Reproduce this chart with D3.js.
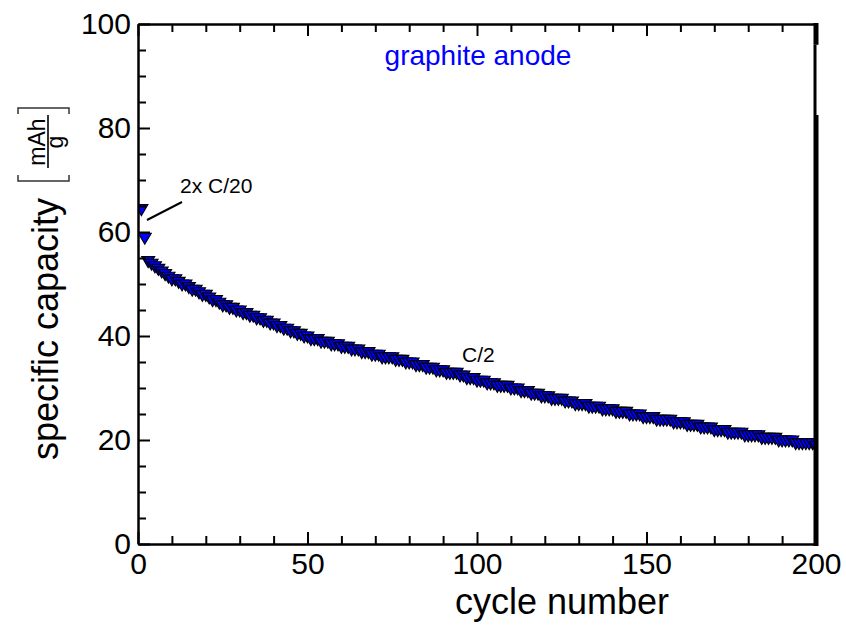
<!DOCTYPE html>
<html>
<head>
<meta charset="utf-8">
<script src="https://cdn.jsdelivr.net/npm/d3@7"></script>
<style>
  html, body { margin: 0; padding: 0; background: #fff; }
  svg { display: block; font-family: "Liberation Sans", Arial, Helvetica, sans-serif; }
</style>
</head>
<body>
<svg id="chart" width="846" height="626"></svg>
<script>
// ---------- data ----------
const xMajorTicks = [0, 50, 100, 150, 200];
const yMajorTicks = [0, 20, 40, 60, 80, 100];
const c20Cycles = [1, 2];
const c20Capacity = [64.5, 59.0];
const c2FirstCycle = 3;
const c2Capacity = [
  54.5, 54.0, 53.5, 53.0, 52.5, 52.0, 51.5, 51.0,
  51.0, 50.5, 50.0, 50.0, 49.5, 49.0, 49.0, 48.5, 48.0, 48.0,
  47.5, 47.0, 47.0, 46.5, 46.0, 46.0, 45.5, 45.5, 45.0, 45.0,
  44.5, 44.5, 44.0, 44.0, 43.5, 43.5, 43.0, 43.0, 42.5, 42.5,
  42.0, 42.0, 41.5, 41.5, 41.0, 41.0, 40.5, 40.5, 40.0, 40.0,
  39.5, 39.5, 39.5, 39.0, 39.0, 39.0, 38.5, 38.5, 38.5, 38.0,
  38.0, 38.0, 37.5, 37.5, 37.5, 37.0, 37.0, 37.0, 36.5, 36.5,
  36.5, 36.0, 36.0, 36.0, 36.0, 35.5, 35.5, 35.5, 35.0, 35.0,
  35.0, 34.5, 34.5, 34.5, 34.0, 34.0, 34.0, 33.5, 33.5, 33.5,
  33.0, 33.0, 33.0, 33.0, 32.5, 32.5, 32.0, 32.0, 32.0, 31.5,
  31.5, 31.5, 31.0, 31.0, 31.0, 30.5, 30.5, 30.5, 30.5, 30.0,
  30.0, 30.0, 29.5, 29.5, 29.5, 29.0, 29.0, 29.0, 28.5, 28.5,
  28.5, 28.0, 28.0, 28.0, 28.0, 27.5, 27.5, 27.5, 27.0, 27.0,
  27.0, 27.0, 26.5, 26.5, 26.5, 26.5, 26.0, 26.0, 26.0, 26.0,
  25.5, 25.5, 25.5, 25.5, 25.0, 25.0, 25.0, 25.0, 24.5, 24.5,
  24.5, 24.5, 24.0, 24.0, 24.0, 24.0, 24.0, 23.5, 23.5, 23.5,
  23.5, 23.0, 23.0, 23.0, 23.0, 22.5, 22.5, 22.5, 22.5, 22.0,
  22.0, 22.0, 22.0, 21.5, 21.5, 21.5, 21.5, 21.5, 21.0, 21.0,
  21.0, 21.0, 21.0, 20.5, 20.5, 20.5, 20.5, 20.5, 20.0, 20.0,
  20.0, 20.0, 20.0, 19.5, 19.5, 19.5, 19.5, 19.5, 19.5, 19.0
];

// ---------- layout ----------
const L = 138, R = 816, T = 24, B = 544;
const svg = d3.select("#chart");
svg.append("rect").attr("width", 846).attr("height", 626).attr("fill", "#fff");

const x = d3.scaleLinear().domain([0, 200]).range([L, R]);
const y = d3.scaleLinear().domain([0, 100]).range([B, T]);

const xMinor = d3.range(10, 200, 10).filter(v => v % 50 !== 0);
const yMinor = d3.range(5, 100, 5).filter(v => v % 20 !== 0);

// clip
svg.append("clipPath").attr("id", "plotclip")
  .append("rect").attr("x", L + 1).attr("y", T).attr("width", R - L - 1).attr("height", B - T);

// ---------- data markers ----------
function tri(cx, cy) {
  const w = 6.5, up = 4, dn = 7;
  return `M${cx - w},${cy - up}L${cx + w},${cy - up}L${cx},${cy + dn}Z`;
}
const pts = [];
c20Cycles.forEach((c, i) => pts.push({ c, v: c20Capacity[i] }));
c2Capacity.forEach((v, i) => pts.push({ c: c2FirstCycle + i, v }));

svg.append("g").attr("clip-path", "url(#plotclip)")
  .selectAll("path").data(pts).join("path")
  .attr("d", d => tri(x(d.c), y(d.v)))
  .attr("fill", "#0000ff")
  .attr("stroke", "#000")
  .attr("stroke-width", 1.1)
  .attr("stroke-linejoin", "miter");

// ---------- axes ----------
const fontTick = 30;
function styleAxis(g, sw) {
  g.select(".domain").attr("stroke", "#000").attr("stroke-width", sw);
  g.selectAll(".tick line").attr("stroke", "#000").attr("stroke-width", 2);
  g.selectAll("text").attr("fill", "#000").style("font-size", fontTick + "px")
    .style("font-family", "'Liberation Sans', Arial, sans-serif");
}

// bottom
const gB = svg.append("g").attr("transform", `translate(0,${B})`)
  .call(d3.axisBottom(x).tickValues(xMajorTicks).tickSize(-12).tickSizeOuter(0).tickPadding(9).tickFormat(d3.format("d")));
styleAxis(gB, 2.5);
gB.selectAll(".tick text").attr("y", 9).attr("dy", "0.71em");
svg.append("g").attr("transform", `translate(0,${B})`)
  .call(d3.axisBottom(x).tickValues(xMinor).tickSize(-8).tickFormat(""))
  .call(g => { g.select(".domain").remove(); g.selectAll("line").attr("stroke", "#000").attr("stroke-width", 2); });

// top
const gT = svg.append("g").attr("transform", `translate(0,${T})`)
  .call(d3.axisTop(x).tickValues(xMajorTicks).tickSize(-12).tickSizeOuter(0).tickFormat(""));
styleAxis(gT, 2.5);
svg.append("g").attr("transform", `translate(0,${T})`)
  .call(d3.axisTop(x).tickValues(xMinor).tickSize(-8).tickFormat(""))
  .call(g => { g.select(".domain").remove(); g.selectAll("line").attr("stroke", "#000").attr("stroke-width", 2); });

// left
const gL = svg.append("g").attr("transform", `translate(${L},0)`)
  .call(d3.axisLeft(y).tickValues(yMajorTicks).tickSize(-12).tickSizeOuter(0).tickPadding(7).tickFormat(d3.format("d")));
styleAxis(gL, 2.5);
svg.append("g").attr("transform", `translate(${L},0)`)
  .call(d3.axisLeft(y).tickValues(yMinor).tickSize(-8).tickFormat(""))
  .call(g => { g.select(".domain").remove(); g.selectAll("line").attr("stroke", "#000").attr("stroke-width", 2); });

// right border (thick, with thinner segment near the top)
svg.append("line").attr("x1", 816).attr("x2", 816).attr("y1", T - 1).attr("y2", y(96)).attr("stroke", "#000").attr("stroke-width", 5);
svg.append("line").attr("x1", 815).attr("x2", 815).attr("y1", y(96)).attr("y2", y(82.5)).attr("stroke", "#000").attr("stroke-width", 3);
svg.append("line").attr("x1", 816).attr("x2", 816).attr("y1", y(82.5)).attr("y2", B + 2).attr("stroke", "#000").attr("stroke-width", 5);

// ---------- titles ----------
svg.append("text").attr("x", 562).attr("y", 614).attr("text-anchor", "middle")
  .style("font-size", "36px").attr("fill", "#000").text("cycle number");

svg.append("text").attr("transform", "translate(58,329) rotate(-90)")
  .attr("text-anchor", "middle").style("font-size", "36px").attr("fill", "#000")
  .text("specific capacity");

// unit fraction [mAh / g]
svg.append("text").attr("transform", "translate(45,142) rotate(-90)")
  .attr("text-anchor", "middle").style("font-size", "23px").attr("fill", "#000").text("mAh");
svg.append("text").attr("transform", "translate(63,142) rotate(-90)")
  .attr("text-anchor", "middle").style("font-size", "23px").attr("fill", "#000").text("g");
svg.append("line").attr("x1", 48).attr("x2", 48).attr("y1", 115).attr("y2", 168)
  .attr("stroke", "#000").attr("stroke-width", 1.6);
svg.append("path").attr("d", "M18,175L18,181L69,181L69,175").attr("fill", "none")
  .attr("stroke", "#333").attr("stroke-width", 1.5);
svg.append("path").attr("d", "M18,114L18,108L69,108L69,114").attr("fill", "none")
  .attr("stroke", "#333").attr("stroke-width", 1.5);

// ---------- annotations ----------
svg.append("text").attr("x", 478).attr("y", 65).attr("text-anchor", "middle")
  .style("font-size", "28px").attr("fill", "#0000ff").text("graphite anode");

svg.append("text").attr("x", 180).attr("y", 193)
  .style("font-size", "21px").attr("fill", "#000").text("2x C/20");
svg.append("line").attr("x1", 147).attr("y1", 220).attr("x2", 182).attr("y2", 202)
  .attr("stroke", "#000").attr("stroke-width", 2);

svg.append("text").attr("x", 462).attr("y", 362)
  .style("font-size", "21px").attr("fill", "#000").text("C/2");
</script>
</body>
</html>
